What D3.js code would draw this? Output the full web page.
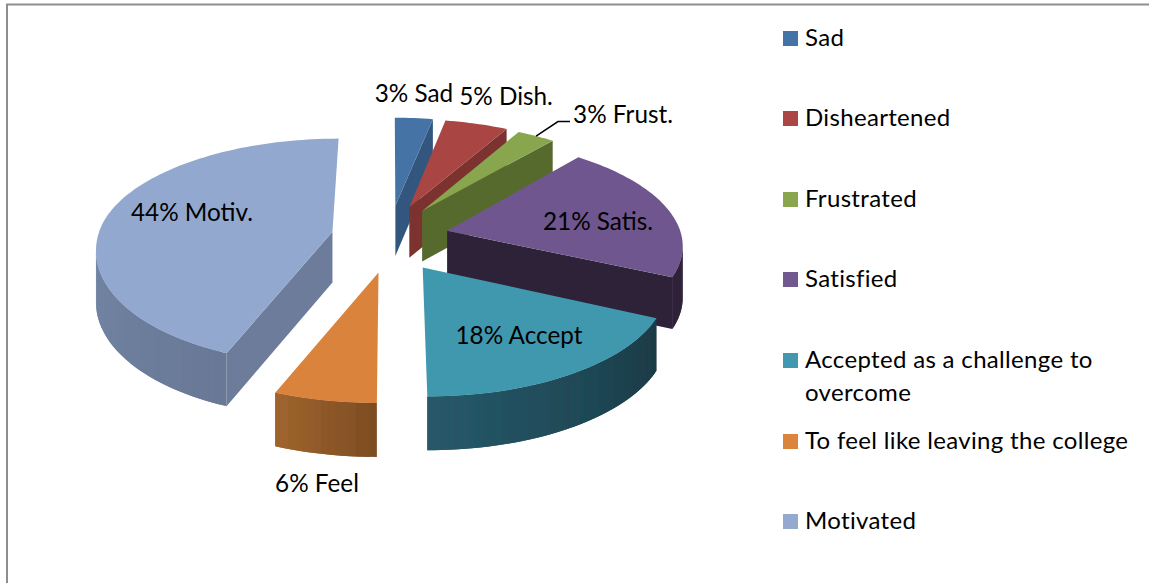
<!DOCTYPE html>
<html><head><meta charset="utf-8">
<script src="https://cdn.jsdelivr.net/npm/d3@7"></script>
<style>html,body{margin:0;padding:0;background:#fff}svg{display:block}text{font-family:Lato,"Open Sans",sans-serif;fill:#000}</style>
</head><body><svg id="c" width="1149" height="583"></svg>
<script>
// ---- data ----
const categories = ["Sad","Disheartened","Frustrated","Satisfied","Accepted as a challenge to overcome","To feel like leaving the college","Motivated"];
const values = [3,5,3,21,18,6,44];
const shortNames = ["Sad","Dish.","Frust.","Satis.","Accept","Feel","Motiv."];
// ---- styles ----
const topColors = ["#4473A6","#A94542","#88A64E","#70578E","#4098AF","#D9833C","#92A8CF"];
const legendColors = ["#4473A6","#AA4643","#89A54E","#71588F","#4198AF","#DB843D","#93A9CF"];
const radialWall = ["#33577E","#7B302E","#566A2F","#2E2238","#1A3A45","#7F4E22","#6C7C9A"];
const arcWallFrom = ["#33577E","#7B302E","#566A2F","#2E2238","#1A3A45","#7C4C22","#687895"];
const arcWallTo = ["#33577E","#7B302E","#566A2F","#2E2238","#26596A","#A0652E","#8499BE"];
// ---- layout ----
const CX=390, CY=238, R=235, D=1950, K=0.45, EX=59, EY=75, H=51;
const frontStretch = [1,1,1,1,1,1,1.1];
const labelPos = [[414,102],[506,105],[623,123],[598,230],[519,344],[317,492],[192,221]];
const legendY = [38,118,199,279,360,441,521];

const svg = d3.select("#c");
const defs = svg.append("defs");
defs.append("filter").attr("id","soft").attr("x","-5%").attr("y","-5%").attr("width","110%").attr("height","110%")
  .append("feGaussianBlur").attr("stdDeviation",0.45);
svg.append("path").attr("d","M1149,4.5H7V583").attr("fill","none").attr("stroke","#8E8E8E").attr("stroke-width",2);

const pie = d3.pie().sort(null).value(d=>d).startAngle(0).endAngle(2*Math.PI);
const arcs = pie(values);
const line = d3.line();

function proj(x,y,bottom){
  const s=D/(D+y);
  return [CX+x*s, CY-K*y*s+(bottom?H*(0.7+0.3*s):0)];
}
function sliceGeom(a,i){
  const mid=(a.startAngle+a.endAngle)/2;
  const ox=EX*Math.sin(mid), oy=EY*Math.cos(mid);
  return (ang,r,b)=>{
    const c=Math.cos(ang);
    return proj(ox+r*Math.sin(ang),oy+r*c*(c<0?frontStretch[i]:1),b);
  };
}
function area(p){let t=0;p.forEach((q,i)=>{const n=p[(i+1)%p.length];t+=q[0]*n[1]-n[0]*q[1];});return t;}

const paintOrder=[0,1,2,3,6,4,5];
const chart=svg.append("g").attr("filter","url(#soft)");
paintOrder.forEach(i=>{
  const a=arcs[i], pt=sliceGeom(a,i), g=chart.append("g");
  const N=Math.max(8,Math.round((a.endAngle-a.startAngle)*40));
  const angles=d3.range(N+1).map(k=>a.startAngle+(a.endAngle-a.startAngle)*k/N);
  const shade=d3.scaleLinear().domain([a.startAngle,a.endAngle]).range([arcWallFrom[i],arcWallTo[i]]);
  const quad=(p,c)=>g.append("path").attr("d",line(p)+"Z").attr("fill",c);
  // radial walls
  const sw=[pt(0,0,false),pt(a.startAngle,R,false),pt(a.startAngle,R,true),pt(0,0,true)];
  if(area(sw)<-1500) quad(sw,radialWall[i]);
  const ew=[pt(0,0,false),pt(a.endAngle,R,false),pt(a.endAngle,R,true),pt(0,0,true)];
  if(area(ew)>1500) quad(ew,radialWall[i]);
  // outer wall: strips overlap the next one so no seams show
  for(let k=0;k<N;k++){
    const q=[pt(angles[k],R,false),pt(angles[k+1],R,false),pt(angles[k+1],R,true),pt(angles[k],R,true)];
    if(area(q)<0){
      const e=angles[Math.min(N,k+2)];
      quad([pt(angles[k],R,false),pt(e,R,false),pt(e,R,true),pt(angles[k],R,true)],shade((angles[k]+angles[k+1])/2));
    }
  }
  // top face
  const top=[pt(0,0,false)].concat(angles.map(t=>pt(t,R,false)));
  g.append("path").attr("d",line(top)+"Z").attr("fill",topColors[i]);
});

// leader line for the Frustrated label, anchored on its arc
const fr=arcs[2], frPt=sliceGeom(fr,2)((fr.startAngle+fr.endAngle)/2,R,false);
svg.append("path").attr("d",line([[frPt[0],frPt[1]],[558,121.5],[570,121.5]])).attr("fill","none").attr("stroke","#000").attr("stroke-width",1.5);

// data labels
svg.append("g").selectAll("text").data(values).join("text")
  .attr("x",(d,i)=>labelPos[i][0]).attr("y",(d,i)=>labelPos[i][1])
  .attr("text-anchor","middle").attr("font-size",24.3)
  .text((d,i)=>d+"% "+shortNames[i]);

// legend
const lg=svg.append("g").selectAll("g").data(categories).join("g")
  .attr("transform",(d,i)=>`translate(783,${legendY[i]})`);
lg.append("rect").attr("x",0).attr("y",-7).attr("width",15).attr("height",15).attr("fill",(d,i)=>legendColors[i]);
lg.append("text").attr("x",22).attr("y",8).attr("font-size",24).attr("letter-spacing",0.33).each(function(d){
  const t=d3.select(this);
  if(d.startsWith("Accepted")){
    t.append("tspan").attr("x",22).text("Accepted as a challenge to");
    t.append("tspan").attr("x",22).attr("dy",33).text("overcome");
  } else t.text(d);
});
</script></body></html>
